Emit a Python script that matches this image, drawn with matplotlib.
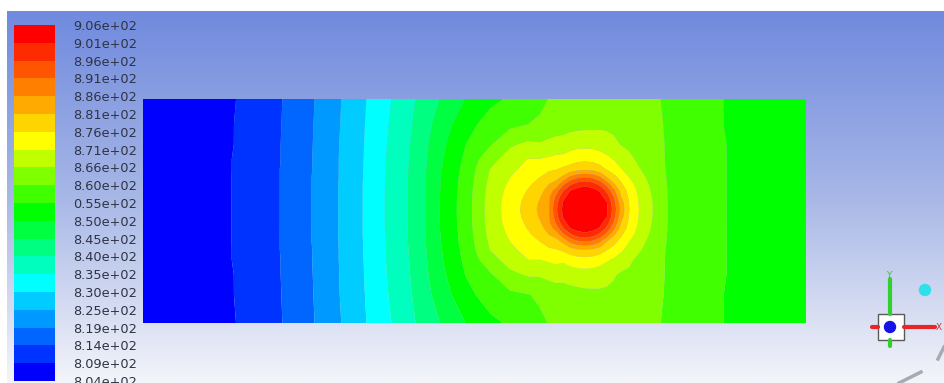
import matplotlib
matplotlib.use('Agg')
import matplotlib.pyplot as plt
from matplotlib.colors import LinearSegmentedColormap
from matplotlib.patches import Rectangle, Circle
import numpy as np

#%% data: static temperature (K) sampled across the channel

# sample positions in mm (x from inlet, y from bottom wall)
x_mm = [0, 97, 140, 172, 199, 224, 249, 273, 297, 323, 347, 367, 385, 397,
        406, 413, 420, 427, 434, 442, 450, 457, 464, 471, 478, 486, 495,
        509, 527, 577, 663]
y_mm = [223, 198, 178, 163, 153, 145, 138, 132, 126, 120, 113, 106, 100,
        94, 88, 81, 73, 63, 48, 28, 0]

# one list per x station, values listed top wall -> bottom wall
temp_cols = [
    [804.5, 804.7, 804.8, 804.9, 804.9, 805.0, 805.0, 805.0, 805.0, 805.0, 805.0, 805.0, 805.0, 805.0, 805.0, 805.0, 804.9, 804.9, 804.8, 804.7, 804.5],
    [809.4, 809.5, 809.5, 809.6, 809.6, 809.6, 809.6, 809.6, 809.6, 809.6, 809.6, 809.6, 809.6, 809.6, 809.6, 809.6, 809.6, 809.6, 809.5, 809.5, 809.4],
    [814.4, 814.5, 814.6, 814.6, 814.7, 814.7, 814.7, 814.7, 814.7, 814.7, 814.7, 814.7, 814.7, 814.7, 814.7, 814.7, 814.7, 814.6, 814.6, 814.5, 814.4],
    [819.5, 819.7, 819.8, 819.9, 819.9, 820.0, 820.0, 820.0, 820.0, 820.0, 820.0, 820.0, 820.0, 820.0, 820.0, 820.0, 819.9, 819.9, 819.8, 819.7, 819.5],
    [824.7, 824.9, 825.1, 825.2, 825.2, 825.2, 825.3, 825.3, 825.3, 825.3, 825.3, 825.3, 825.3, 825.3, 825.3, 825.3, 825.2, 825.2, 825.1, 825.0, 824.7],
    [829.8, 830.1, 830.3, 830.4, 830.5, 830.5, 830.6, 830.6, 830.6, 830.6, 830.6, 830.6, 830.6, 830.6, 830.6, 830.5, 830.5, 830.4, 830.3, 830.1, 829.8],
    [834.9, 835.5, 835.9, 836.2, 836.3, 836.4, 836.4, 836.5, 836.5, 836.5, 836.5, 836.5, 836.5, 836.5, 836.4, 836.4, 836.3, 836.2, 836.0, 835.6, 834.9],
    [840.0, 840.7, 841.2, 841.4, 841.6, 841.7, 841.7, 841.8, 841.8, 841.8, 841.8, 841.8, 841.8, 841.8, 841.7, 841.7, 841.6, 841.4, 841.2, 840.8, 840.0],
    [845.1, 847.2, 848.5, 849.2, 849.6, 849.9, 850.0, 850.1, 850.2, 850.3, 850.3, 850.3, 850.2, 850.2, 850.0, 849.9, 849.6, 849.3, 848.6, 847.4, 845.1],
    [850.3, 853.4, 855.3, 856.4, 857.0, 857.4, 857.6, 857.8, 857.9, 858.0, 858.0, 858.0, 857.9, 857.8, 857.6, 857.4, 857.0, 856.5, 855.5, 853.6, 850.3],
    [854.0, 857.4, 859.9, 863.8, 865.6, 866.3, 866.8, 867.2, 867.4, 867.6, 867.7, 867.6, 867.4, 867.2, 866.8, 866.3, 865.6, 863.5, 859.7, 857.7, 854.0],
    [856.0, 859.1, 864.8, 867.8, 869.4, 870.6, 871.5, 872.1, 872.6, 872.9, 873.0, 872.9, 872.6, 872.1, 871.5, 870.6, 869.4, 867.6, 864.3, 859.3, 856.0],
    [857.5, 860.4, 866.5, 870.8, 872.4, 873.8, 875.0, 876.0, 876.8, 877.5, 877.9, 877.5, 876.8, 876.0, 875.0, 873.8, 872.4, 870.6, 866.0, 860.1, 857.5],
    [859.2, 861.2, 866.0, 870.8, 873.2, 875.8, 877.6, 879.0, 880.5, 881.5, 882.0, 881.5, 880.5, 879.0, 877.6, 875.8, 873.2, 870.6, 866.0, 861.4, 859.2],
    [860.6, 862.3, 866.8, 871.4, 875.0, 878.2, 881.0, 883.3, 885.2, 885.6, 885.9, 885.6, 885.2, 883.3, 881.0, 878.2, 875.0, 871.4, 866.8, 862.4, 860.6],
    [861.1, 862.6, 867.5, 872.0, 875.5, 879.2, 882.9, 888.2, 891.7, 894.1, 895.2, 894.1, 891.7, 888.2, 882.9, 879.2, 875.5, 872.0, 867.5, 862.7, 861.1],
    [861.6, 863.0, 867.7, 872.1, 876.8, 881.9, 890.0, 895.4, 899.6, 901.8, 902.4, 901.8, 899.6, 895.4, 890.0, 881.9, 876.8, 871.5, 867.1, 863.0, 861.6],
    [862.1, 863.6, 868.4, 873.4, 877.8, 887.2, 895.2, 901.2, 903.4, 905.0, 905.1, 905.0, 903.4, 901.2, 895.2, 887.2, 878.8, 872.8, 867.8, 863.4, 862.1],
    [862.4, 863.9, 868.9, 874.3, 879.3, 890.0, 898.7, 903.0, 905.1, 906.0, 906.1, 906.0, 905.1, 903.0, 898.7, 890.0, 880.4, 873.6, 868.2, 863.7, 862.4],
    [862.8, 864.0, 869.1, 874.6, 879.9, 891.2, 900.2, 903.8, 905.5, 906.1, 906.4, 906.1, 905.5, 903.8, 900.2, 891.2, 881.0, 873.9, 868.4, 864.1, 862.8],
    [863.0, 864.2, 868.9, 874.3, 879.2, 889.9, 898.6, 902.9, 905.0, 905.9, 906.1, 905.9, 905.0, 902.9, 898.6, 889.9, 880.3, 873.5, 868.2, 864.3, 863.0],
    [863.2, 864.4, 868.4, 873.3, 877.6, 886.8, 894.8, 900.7, 903.1, 904.6, 905.0, 904.6, 903.1, 900.7, 894.8, 886.8, 878.6, 872.6, 867.7, 864.5, 863.2],
    [863.2, 864.4, 867.6, 871.9, 875.4, 881.0, 889.2, 894.5, 898.6, 901.4, 901.9, 901.4, 898.6, 894.5, 889.2, 881.0, 876.1, 871.2, 866.9, 864.5, 863.2],
    [863.2, 864.3, 866.5, 870.4, 873.3, 877.3, 881.6, 887.1, 890.5, 892.8, 893.9, 892.8, 890.5, 887.1, 881.6, 877.3, 873.9, 869.9, 865.9, 864.4, 863.2],
    [863.1, 864.2, 865.3, 868.9, 870.9, 874.1, 876.6, 879.1, 880.9, 883.4, 884.4, 883.4, 880.9, 879.1, 876.6, 874.1, 871.4, 868.5, 864.8, 864.2, 863.1],
    [862.8, 863.8, 864.4, 866.9, 868.8, 870.7, 872.6, 874.0, 875.0, 875.7, 876.0, 875.7, 875.0, 874.0, 872.6, 870.7, 869.1, 866.6, 864.4, 863.8, 862.8],
    [862.4, 863.3, 863.8, 864.7, 866.2, 867.9, 869.1, 869.9, 870.5, 870.8, 871.0, 870.8, 870.5, 869.9, 869.1, 867.9, 866.5, 864.4, 863.9, 863.4, 862.4],
    [861.5, 862.1, 862.5, 862.7, 862.8, 863.6, 864.5, 865.0, 865.4, 865.7, 865.8, 865.7, 865.4, 865.0, 864.5, 863.6, 862.8, 862.7, 862.5, 862.2, 861.5],
    [859.2, 859.4, 859.5, 859.5, 859.6, 859.6, 859.6, 859.6, 859.6, 859.6, 859.6, 859.6, 859.6, 859.6, 859.6, 859.6, 859.6, 859.5, 859.5, 859.4, 859.2],
    [855.4, 855.4, 855.5, 855.5, 855.5, 855.5, 855.5, 855.5, 855.5, 855.5, 855.5, 855.5, 855.5, 855.5, 855.5, 855.5, 855.5, 855.5, 855.5, 855.4, 855.4],
    [852.5, 852.6, 852.6, 852.7, 852.7, 852.7, 852.7, 852.7, 852.7, 852.7, 852.7, 852.7, 852.7, 852.7, 852.7, 852.7, 852.7, 852.7, 852.6, 852.6, 852.5],
]

# colour bar range and its labels (top -> bottom, as printed)
t_min, t_max = 804.08, 906.48
bar_labels = ['9.06e+02', '9.01e+02', '8.96e+02', '8.91e+02', '8.86e+02',
              '8.81e+02', '8.76e+02', '8.71e+02', '8.66e+02', '8.60e+02',
              '0.55e+02', '8.50e+02', '8.45e+02', '8.40e+02', '8.35e+02',
              '8.30e+02', '8.25e+02', '8.19e+02', '8.14e+02', '8.09e+02',
              '8.04e+02']

# fluent style banded rainbow, low -> high
band_colors = ['#0000ff', '#0033ff', '#0066ff', '#0099ff', '#00ccff',
               '#00ffff', '#00ffbf', '#00ff80', '#00ff40', '#00ff00',
               '#40ff00', '#80ff00', '#bfff00', '#ffff00', '#ffd500',
               '#ffaa00', '#ff8000', '#ff5500', '#ff2b00', '#ff0000']

#%% figure
W, H = 944, 383
fig = plt.figure(figsize=(W/100, H/100), dpi=100)
fig.patch.set_facecolor('white')

def px_rect(x0, y0, x1, y1):
    # pixel box (top-left origin) -> figure fraction
    return [x0/W, 1 - y1/H, (x1 - x0)/W, (y1 - y0)/H]

# graphics window background, blue at top fading to white
bg = fig.add_axes(px_rect(7, 11, W, H), zorder=0)
grad = np.linspace(0, 1, 256)[:, None]
bg_cmap = LinearSegmentedColormap.from_list('bg', ['#708ade', '#a7b7e6', '#f4f5fa'])
bg.imshow(grad, aspect='auto', cmap=bg_cmap)
bg.axis('off')

# contour field
levels = np.linspace(t_min, t_max, 21)
T = np.array(temp_cols).T
X, Y = np.meshgrid(x_mm, y_mm)

ax = fig.add_axes(px_rect(143, 99, 806, 323), zorder=2)
cs = ax.contourf(X, Y, T, levels=levels, colors=band_colors, antialiased=True)
ax.set_xlim(x_mm[0], x_mm[-1])
ax.set_ylim(y_mm[-1], y_mm[0])
ax.axis('off')

# colour bar
cax = fig.add_axes(px_rect(14, 25, 55, 381), zorder=2)
cb = fig.colorbar(cs, cax=cax, ticks=levels)
cb.ax.set_yticklabels(bar_labels[::-1])
cb.outline.set_visible(False)
cax.tick_params(length=0, pad=13, labelsize=9.3, labelcolor='#2e3344')

#%% axis triad in the corner
tri = fig.add_axes([0, 0, 1, 1], zorder=3)
tri.set_xlim(0, W)
tri.set_ylim(H, 0)
tri.axis('off')
tri.patch.set_alpha(0)
tri.plot([890, 890], [314, 279], color='#2fd02f', lw=3, solid_capstyle='round')
tri.plot([890, 890], [340, 346], color='#2fd02f', lw=3, solid_capstyle='round')
tri.text(889, 276, 'Y', color='#3fbf3f', fontsize=6.5, ha='center', va='center')
tri.plot([904, 935], [327, 327], color='#e8262a', lw=3, solid_capstyle='round')
tri.plot([872, 878], [327, 327], color='#e8262a', lw=3, solid_capstyle='round')
tri.text(939, 327, 'X', color='#d23030', fontsize=6.5, ha='center', va='center')
tri.add_patch(Rectangle((878, 314), 26, 26, facecolor='white', edgecolor='#5a5a5a', lw=1))
tri.add_patch(Circle((890, 327), 5.5, color='#1414e6'))
tri.add_patch(Circle((925, 290), 5.5, color='#2ee0ea'))
tri.plot([938, 944], [359, 347], color='#a9abb3', lw=2.5)
tri.plot([899, 921], [383, 372], color='#a9abb3', lw=2.5)

plt.savefig('out.png', dpi=100)
